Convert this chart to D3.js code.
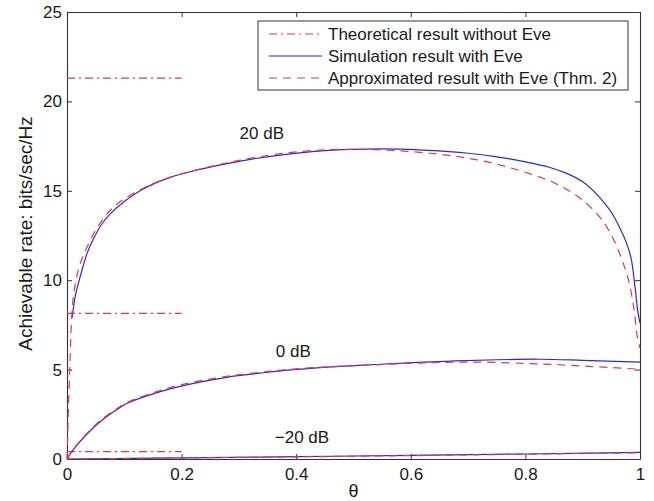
<!DOCTYPE html>
<html>
<head>
<meta charset="utf-8">
<script src="https://d3js.org/d3.v7.min.js"></script>
<style>
  body { margin: 0; background: #fff; }
  svg { display: block; font-family: "Liberation Sans", Arial, sans-serif; }
</style>
</head>
<body>
<svg width="654" height="501"></svg>
<script>
// values: [theta, rate]
const sim20 = [[0.009,7.9],[0.015,9.2],[0.023,10.2],[0.035,11.5],[0.046,12.3],[0.06,13.1],[0.075,13.7],[0.1,14.4],[0.133,15.1],[0.18,15.75],[0.232,16.2],[0.3,16.65],[0.372,17.0],[0.45,17.25],[0.547,17.34],[0.63,17.26],[0.7,17.1],[0.75,16.9],[0.8,16.62],[0.84,16.33],[0.87,16.0],[0.9,15.5],[0.92,14.95],[0.937,14.35],[0.952,13.7],[0.965,12.9],[0.975,12.2],[0.984,11.3],[0.991,9.7],[0.996,8.3],[1,7.6]];
const approx20 = [[0,0],[0.002,2.2],[0.005,5.2],[0.008,7.8],[0.012,9.3],[0.02,10.6],[0.03,11.5],[0.05,12.8],[0.075,13.9],[0.1,14.55],[0.15,15.4],[0.2,15.95],[0.25,16.35],[0.3,16.7],[0.378,17.1],[0.46,17.3],[0.55,17.28],[0.634,17.1],[0.7,16.82],[0.744,16.54],[0.808,15.95],[0.85,15.45],[0.883,14.86],[0.91,14.2],[0.936,13.27],[0.955,12.2],[0.969,11.1],[0.98,10.0],[0.989,8.5],[0.995,6.9],[1,6.2]];
const sim0 = [[0,0],[0.01,0.48],[0.02,0.88],[0.03,1.23],[0.046,1.75],[0.06,2.14],[0.075,2.5],[0.09,2.82],[0.104,3.1],[0.163,3.77],[0.221,4.23],[0.279,4.57],[0.337,4.8],[0.395,5.0],[0.47,5.17],[0.547,5.3],[0.65,5.45],[0.75,5.55],[0.826,5.58],[0.9,5.52],[1,5.42]];
const approx0 = [[0,0],[0.01,0.5],[0.02,0.9],[0.03,1.26],[0.046,1.8],[0.06,2.2],[0.075,2.56],[0.09,2.88],[0.104,3.15],[0.163,3.84],[0.221,4.3],[0.279,4.62],[0.337,4.85],[0.395,5.03],[0.47,5.18],[0.547,5.28],[0.65,5.4],[0.72,5.42],[0.83,5.31],[0.9,5.2],[1,5.02]];
const simM20 = [[0,0],[0.2,0.06],[0.4,0.13],[0.6,0.2],[0.8,0.28],[1,0.37]];
const approxM20 = [[0,0],[0.2,0.06],[0.4,0.12],[0.6,0.19],[0.8,0.27],[1,0.35]];
const theoryLevels = [21.3, 8.15, 0.41];
const theoryRange = [0, 0.2];
const snrLabels = [["20 dB", 0.34, 17.9], ["0 dB", 0.395, 5.7], ["\u221220 dB", 0.41, 0.9]];
const xTicks = [0, 0.2, 0.4, 0.6, 0.8, 1];
const yTicks = [0, 5, 10, 15, 20, 25];
const legendItems = [
  {label: "Theoretical result without Eve", color: "#e8383d", dash: "8,4,2,4"},
  {label: "Simulation result with Eve", color: "#2828e0", dash: null},
  {label: "Approximated result with Eve (Thm. 2)", color: "#e8383d", dash: "8,6"}
];

const svg = d3.select("svg");
const mLeft = 67, mRight = 640, mTop = 12, mBottom = 459;
const x = d3.scaleLinear().domain([0, 1]).range([mLeft, mRight]);
const y = d3.scaleLinear().domain([0, 25]).range([mBottom, mTop]);
const axisColor = "#333";

const line = d3.line().x(d => x(d[0])).y(d => y(d[1])).curve(d3.curveCatmullRom.alpha(0.5));

// axes box, ticks pointing inward
function styleAxis(g) {
  g.select(".domain").attr("stroke", axisColor).attr("stroke-width", 1.1);
  g.selectAll(".tick line").attr("stroke", axisColor);
  g.selectAll(".tick text").attr("fill", "#1a1a1a").attr("font-size", 17);
  g.attr("font-family", null);
}
svg.append("g").attr("transform", `translate(0,${mBottom})`)
  .call(d3.axisBottom(x).tickValues(xTicks).tickFormat(d3.format("")).tickSizeInner(-5).tickSizeOuter(0).tickPadding(9))
  .call(styleAxis);
svg.append("g").attr("transform", `translate(0,${mTop})`)
  .call(d3.axisTop(x).tickValues(xTicks).tickFormat("").tickSizeInner(-5).tickSizeOuter(0))
  .call(styleAxis);
svg.append("g").attr("transform", `translate(${mLeft},0)`)
  .call(d3.axisLeft(y).tickValues(yTicks).tickSizeInner(-5).tickSizeOuter(0).tickPadding(5))
  .call(styleAxis);
svg.append("g").attr("transform", `translate(${mRight},0)`)
  .call(d3.axisRight(y).tickValues(yTicks).tickFormat("").tickSizeInner(-5).tickSizeOuter(0))
  .call(styleAxis);

const plot = svg.append("g");

// theoretical (dash-dot)
plot.selectAll("line.theory").data(theoryLevels).enter().append("line")
  .attr("x1", x(theoryRange[0])).attr("x2", x(theoryRange[1]))
  .attr("y1", d => y(d)).attr("y2", d => y(d))
  .attr("stroke", legendItems[0].color).attr("stroke-width", 1.2)
  .attr("stroke-dasharray", legendItems[0].dash);

// simulation (solid blue)
plot.selectAll("path.sim").data([sim20, sim0, simM20]).enter().append("path")
  .attr("d", line).attr("fill", "none")
  .attr("stroke", legendItems[1].color).attr("stroke-width", 1.2);

// approximation (dashed red)
plot.selectAll("path.approx").data([approx20, approx0, approxM20]).enter().append("path")
  .attr("d", line).attr("fill", "none")
  .attr("stroke", legendItems[2].color).attr("stroke-width", 1.2)
  .attr("stroke-dasharray", legendItems[2].dash);

plot.selectAll("text.snr").data(snrLabels).enter().append("text")
  .attr("x", d => x(d[1])).attr("y", d => y(d[2]))
  .attr("text-anchor", "middle").attr("font-size", 17).attr("fill", "#1a1a1a")
  .text(d => d[0]);

// axis titles
svg.append("text").attr("x", x(0.5)).attr("y", 497)
  .attr("text-anchor", "middle").attr("font-size", 18).attr("fill", "#1a1a1a").text("\u03b8");
svg.append("text").attr("transform", `translate(32,${(mTop + mBottom) / 2 - 2}) rotate(-90)`)
  .attr("text-anchor", "middle").attr("font-size", 19).attr("fill", "#1a1a1a")
  .text("Achievable rate: bits/sec/Hz");

// legend
const lg = svg.append("g").attr("transform", "translate(258,21)");
lg.append("rect").attr("width", 370).attr("height", 69)
  .attr("fill", "#fff").attr("stroke", axisColor).attr("stroke-width", 1);
const row = lg.selectAll("g.row").data(legendItems).enter().append("g")
  .attr("transform", (d, i) => `translate(0,${13 + i * 22})`);
row.append("line").attr("x1", 11).attr("x2", 64)
  .attr("stroke", d => d.color).attr("stroke-width", 1.2)
  .attr("stroke-dasharray", d => d.dash);
row.append("text").attr("x", 70).attr("y", 6)
  .attr("font-size", 17).attr("fill", "#1a1a1a").text(d => d.label);
</script>
</body>
</html>
